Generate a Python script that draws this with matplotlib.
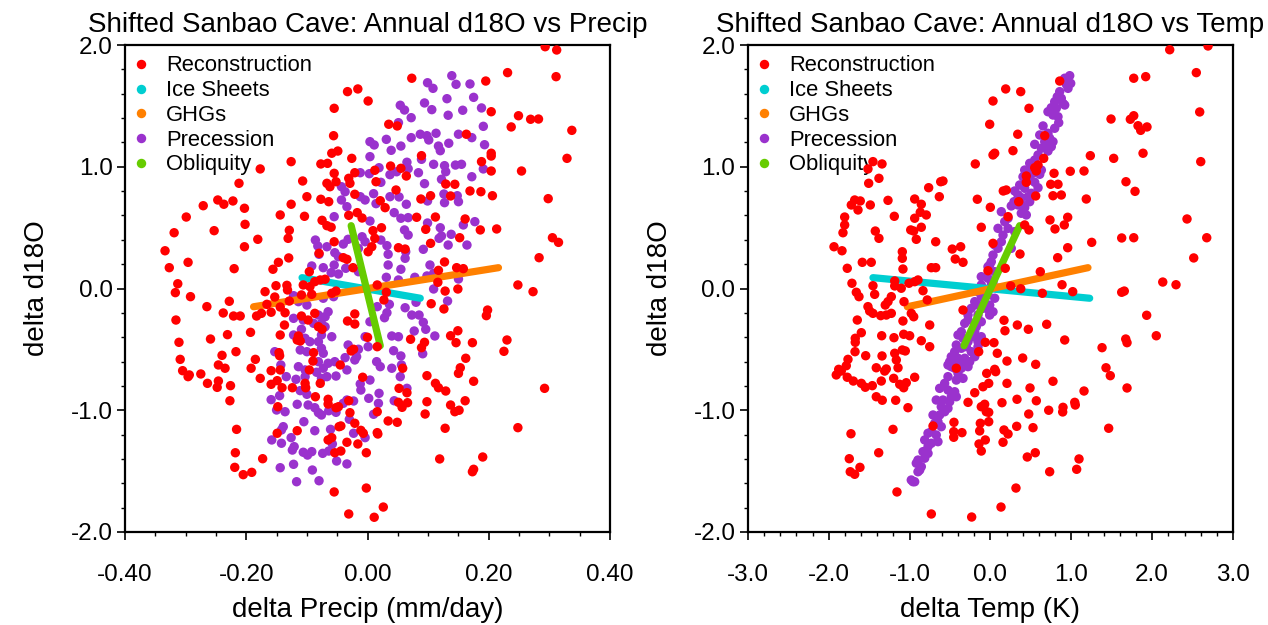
import matplotlib
matplotlib.use('Agg')
import matplotlib.pyplot as plt
from matplotlib.ticker import MultipleLocator, FormatStrFormatter
from matplotlib.lines import Line2D

plt.rcParams['font.family'] = ['Liberation Sans', 'DejaVu Sans']

# ---------------- data: left panel (precip) ----------------
recon_L = [
(-0.033,1.617),(-0.016,1.639),(0.001,1.540),(-0.055,1.480),(-0.056,1.255),(-0.059,1.111),(-0.049,1.129),(-0.026,1.069),
(-0.126,1.042),(-0.077,1.023),(-0.066,1.028),(-0.177,0.982),(-0.055,0.946),(-0.021,0.951),(-0.212,0.864),(-0.107,0.883),
(-0.067,0.864),(-0.062,0.836),(-0.052,0.877),(-0.031,0.905),(-0.029,0.864),(-0.021,0.774),(-0.100,0.754),(-0.077,0.733),
(-0.064,0.713),(-0.126,0.692),(-0.271,0.680),(-0.247,0.727),(-0.237,0.692),(-0.222,0.719),(-0.203,0.659),
(0.293,1.986),(0.312,1.959),(0.311,1.740),(0.231,1.773),(0.073,1.727),(0.195,1.704),(0.204,1.452),(0.249,1.419),
(0.269,1.390),(0.282,1.392),(0.237,1.327),(0.337,1.299),(0.035,1.349),(0.049,1.335),(0.163,1.267),(0.089,1.091),
(0.204,1.111),(0.204,1.088),(0.188,1.042),(0.329,1.069),(0.038,1.006),(0.055,0.987),(0.012,0.971),(0.204,0.965),
(0.254,0.965),(0.064,0.924),(0.014,0.877),(0.129,0.858),(0.144,0.856),(0.047,0.809),(0.169,0.801),(0.187,0.795),
(0.088,0.735),(0.104,0.762),(0.137,0.760),(0.206,0.762),(0.298,0.738),(0.021,0.721),(0.029,0.664),
(-0.299,0.587),(-0.144,0.604),(-0.104,0.593),(-0.075,0.560),(-0.067,0.516),(-0.060,0.503),(-0.031,0.601),(-0.017,0.623),
(-0.009,0.579),(-0.202,0.527),(-0.253,0.475),(-0.319,0.458),(-0.129,0.478),(-0.131,0.412),(-0.181,0.404),(-0.055,0.384),
(-0.203,0.343),(-0.334,0.310),(-0.080,0.289),(-0.040,0.253),(-0.034,0.240),(-0.130,0.251),(-0.147,0.215),(-0.296,0.215),
(-0.327,0.171),(-0.220,0.163),(-0.156,0.158),(-0.024,0.171),(-0.096,0.138),(0.001,0.302),(-0.087,0.056),(-0.078,0.070),
(-0.070,0.076),(-0.095,0.015),(-0.106,0.029),(-0.313,0.039),(-0.151,0.023),(-0.133,0.026),(-0.132,-0.012),(-0.317,-0.034),
(-0.292,-0.067),(-0.169,-0.026),(-0.109,-0.053),(-0.092,-0.048),(-0.059,-0.039),(-0.052,-0.021),(-0.153,-0.070),(-0.228,-0.105),
(-0.265,-0.149),(-0.166,-0.130),(-0.144,-0.152),(-0.129,-0.103),(-0.238,-0.201),(-0.221,-0.226),(-0.210,-0.226),(-0.183,-0.226),
(-0.175,-0.204),(-0.159,-0.195),(-0.136,-0.199),(-0.316,-0.259),(-0.087,-0.204),(-0.109,-0.226),(-0.098,-0.259),(-0.021,-0.209),
(-0.033,-0.267),(-0.021,-0.292),(-0.137,-0.300),(-0.081,-0.314),(-0.075,-0.335),(-0.193,-0.360),(-0.231,-0.379),(-0.144,-0.382),
(-0.114,-0.390),(-0.111,-0.431),(-0.116,-0.423),(-0.259,-0.415),(0.000,-0.401),(-0.311,-0.442),(-0.217,-0.519),(-0.146,-0.527),
(-0.145,-0.552),(-0.089,-0.527),(-0.023,-0.499),(-0.027,-0.513),(-0.240,-0.549),(-0.309,-0.582),(-0.185,-0.582),(-0.090,-0.596),
(-0.045,-0.628),(-0.305,-0.675),(-0.246,-0.628),(-0.235,-0.655),(-0.192,-0.655),(-0.159,-0.675),(-0.144,-0.669),(-0.096,-0.669),
(0.081,0.585),(0.112,0.587),(0.161,0.571),(0.009,0.475),(0.023,0.499),(0.096,0.486),(0.186,0.481),(0.213,0.489),
(0.305,0.417),(0.315,0.379),(0.012,0.412),(0.007,0.343),(0.051,0.335),(0.062,0.324),(0.104,0.371),(0.152,0.417),
(0.283,0.253),(0.127,0.218),(0.147,0.171),(0.158,0.163),(0.117,0.149),(0.016,0.029),(0.116,0.051),(0.031,-0.031),
(0.027,-0.094),(0.128,-0.021),(0.149,-0.004),(0.248,0.029),(0.273,-0.026),(0.105,-0.125),(0.126,-0.168),(0.198,-0.177),
(0.196,-0.223),(0.149,-0.347),(0.137,-0.388),(0.146,-0.445),(0.071,-0.417),(0.094,-0.442),(0.089,-0.486),(0.173,-0.445),
(0.230,-0.423),(0.225,-0.516),(0.162,-0.573),(0.153,-0.651),(0.058,-0.655),(0.016,-0.478),
(-0.296,-0.724),(-0.294,-0.710),(-0.275,-0.702),(-0.264,-0.779),(-0.246,-0.760),(-0.248,-0.812),(-0.226,-0.798),(-0.227,-0.922),
(-0.177,-0.738),(-0.159,-0.787),(-0.149,-0.757),(-0.141,-0.815),(-0.124,-0.815),(-0.103,-0.779),(-0.102,-0.815),(-0.078,-0.779),
(-0.086,-0.889),(-0.065,-0.910),(-0.065,-0.949),(-0.052,-0.979),(-0.048,-0.971),(-0.031,-0.922),(-0.008,-0.729),(-0.029,-1.020),
(-0.148,-0.971),(-0.216,-1.157),(-0.116,-1.168),(-0.149,-1.189),(-0.047,-1.135),(-0.044,-1.129),(-0.021,-1.107),(-0.011,-1.165),
(-0.007,-1.189),(-0.065,-1.244),(-0.059,-1.225),(-0.034,-1.263),(-0.016,-1.277),(-0.054,-1.349),(-0.044,-1.335),(-0.002,-1.349),
(-0.218,-1.349),(-0.173,-1.398),(-0.219,-1.469),(-0.205,-1.529),(-0.191,-1.510),(-0.055,-1.671),(-0.002,-1.639),(-0.031,-1.852),
(0.098,-0.716),(0.150,-0.697),(0.175,-0.762),(0.112,-0.779),(0.117,-0.815),(0.129,-0.842),(0.052,-0.820),(0.065,-0.856),
(0.051,-0.935),(0.057,-0.976),(0.066,-0.938),(0.098,-0.930),(0.137,-0.957),(0.161,-0.922),(0.144,-1.012),(0.151,-1.000),
(0.095,-1.031),(0.016,-1.012),(0.034,-1.088),(0.049,-1.099),(0.128,-1.148),(0.292,-0.820),(0.248,-1.143),(0.016,-1.184),
(0.017,-1.195),(0.119,-1.400),(0.190,-1.384),(0.175,-1.485),(0.173,-1.505),(0.026,-1.795),(0.011,-1.879),
]
recon_precip = [p[0] for p in recon_L]
recon_d18o_L = [p[1] for p in recon_L]

prec_L = [
(-0.012,0.951),(0.004,1.206),(0.004,1.083),(-0.043,0.836),(-0.037,0.795),(-0.043,0.727),(-0.034,0.672),(-0.012,0.754),(-0.004,0.727),
(0.139,1.748),(0.099,1.690),(0.108,1.644),(0.146,1.677),(0.169,1.680),(0.131,1.559),(0.175,1.570),(0.054,1.505),(0.061,1.466),
(0.094,1.524),(0.106,1.469),(0.157,1.464),(0.188,1.483),(0.133,1.423),(0.072,1.403),(0.051,1.362),(0.191,1.332),(0.087,1.267),
(0.098,1.255),(0.101,1.220),(0.113,1.275),(0.150,1.267),(0.172,1.239),(0.072,1.239),(0.031,1.225),(0.011,1.179),(0.055,1.170),
(0.039,1.135),(0.117,1.170),(0.120,1.132),(0.134,1.193),(0.193,1.181),(0.089,1.061),(0.065,1.037),(0.067,0.984),(0.109,1.020),
(0.127,1.009),(0.129,0.959),(0.145,1.014),(0.155,1.020),(0.191,0.982),(0.019,0.992),(0.003,0.943),(0.037,0.935),(0.048,0.959),
(0.084,0.951),(0.122,0.897),(0.094,0.861),(0.172,0.918),(0.022,0.872),(0.010,0.779),(0.037,0.754),(0.052,0.752),(0.126,0.776),
(0.148,0.762),(0.150,0.713),(0.127,0.705),(0.099,0.719),(0.064,0.692),(0.014,0.697),
(-0.055,0.590),(-0.086,0.398),(-0.082,0.349),(-0.067,0.343),(-0.054,0.294),(-0.048,0.261),(-0.040,0.365),(-0.032,0.404),
(-0.009,0.425),(-0.004,0.384),(-0.015,0.330),(-0.080,0.281),(-0.092,0.185),(-0.073,0.171),(-0.055,0.193),(-0.060,0.130),
(-0.048,0.119),(-0.036,0.166),(-0.015,0.138),(-0.122,-0.059),(-0.114,-0.108),(-0.100,-0.136),(-0.073,-0.080),(-0.056,-0.067),
(-0.081,-0.218),(-0.070,-0.232),(-0.065,-0.191),(-0.122,-0.245),(-0.106,-0.259),(-0.089,-0.286),(-0.076,-0.286),(-0.070,-0.314),
(-0.109,-0.335),(-0.122,-0.382),(-0.103,-0.409),(-0.095,-0.437),(-0.081,-0.437),(-0.076,-0.382),(-0.059,-0.396),(-0.111,-0.505),
(-0.100,-0.519),(-0.076,-0.491),(-0.073,-0.532),(-0.032,-0.464),(-0.015,-0.499),(-0.018,-0.560),(-0.004,-0.396),(0.001,-0.478),
(-0.153,-0.519),(-0.143,-0.628),(-0.114,-0.642),(-0.081,-0.601),(-0.065,-0.614),(-0.054,-0.601),(-0.037,-0.568),(-0.021,-0.587),
(-0.073,-0.655),(0.004,-0.273),(0.004,0.554),
(0.044,0.623),(0.055,0.577),(0.067,0.582),(0.099,0.538),(0.120,0.499),(0.158,0.522),(0.177,0.549),(0.061,0.481),(0.067,0.439),
(0.118,0.412),(0.122,0.431),(0.138,0.445),(0.133,0.357),(0.164,0.357),(0.022,0.398),(0.032,0.352),(0.034,0.281),(0.063,0.302),
(0.062,0.248),(0.092,0.322),(0.034,0.193),(0.055,0.158),(0.103,0.193),(0.031,0.092),(0.051,0.070),(0.078,0.092),(0.098,0.103),
(0.109,0.125),(0.150,0.078),(0.109,-0.004),(0.132,-0.103),(0.080,-0.113),(0.036,-0.130),(0.016,-0.149),(0.062,-0.158),(0.032,-0.199),
(0.028,-0.240),(0.073,-0.218),(0.085,-0.218),(0.092,-0.278),(0.096,-0.335),(0.077,-0.349),(0.040,-0.390),(0.051,-0.396),(0.111,-0.390),
(0.043,-0.511),(0.055,-0.554),(0.091,-0.536),(0.015,-0.601),(0.021,-0.642),(0.040,-0.655),(0.056,-0.628),
(-0.134,-0.724),(-0.118,-0.746),(-0.103,-0.669),(-0.084,-0.688),(-0.076,-0.738),(-0.067,-0.724),(-0.052,-0.719),(-0.034,-0.669),
(-0.103,-0.724),(-0.111,-0.839),(-0.100,-0.869),(-0.098,-0.957),(-0.087,-0.979),(-0.081,-1.020),(-0.076,-1.039),(-0.064,-1.004),
(-0.052,-1.017),(-0.040,-0.943),(-0.034,-0.916),(-0.023,-0.924),(-0.012,-0.784),(-0.011,-0.834),(0.002,-0.902),(-0.159,-0.913),
(-0.145,-0.880),(-0.116,-0.951),(-0.136,-1.012),(-0.150,-0.998),(-0.105,-1.094),(-0.139,-1.135),(-0.142,-1.162),(-0.087,-1.168),
(-0.061,-1.157),(-0.030,-1.074),(-0.023,-1.189),(-0.004,-1.225),(-0.158,-1.244),(-0.126,-1.225),(-0.142,-1.271),(-0.121,-1.299),
(-0.124,-1.327),(-0.106,-1.345),(-0.099,-1.368),(-0.092,-1.340),(-0.074,-1.354),(-0.064,-1.335),(-0.058,-1.277),(-0.051,-1.417),
(-0.034,-1.441),(-0.122,-1.444),(-0.144,-1.472),(-0.091,-1.491),(-0.117,-1.587),(-0.080,-1.579),(0.004,-0.752),
(0.054,-0.724),(0.065,-0.820),(0.019,-0.861),(0.044,-0.922),(0.018,-0.943),(0.010,-1.033),
]
prec_precip = [p[0] for p in prec_L]
prec_d18o_L = [p[1] for p in prec_L]

# single-forcing series (end points of their straight runs)
ice_precip = [-0.108, 0.087]
ice_d18o = [0.089, -0.080]
ghg_precip = [-0.188, 0.216]
ghg_d18o = [-0.150, 0.171]
obl_precip = [-0.027, 0.021]
obl_d18o = [0.516, -0.470]

# ---------------- data: right panel (temp) ----------------
recon_R = [
(-0.010,1.349),(0.031,1.540),(0.031,1.097),(-0.188,1.023),(-1.454,1.042),(-1.342,1.023),(-1.507,0.864),(-1.380,0.905),
(-1.516,0.982),(-0.616,0.877),(-0.588,0.883),(-0.765,0.828),(-0.633,0.754),(-0.163,0.733),(-1.268,0.724),(-0.938,0.735),
(-0.856,0.692),(-1.680,0.727),(-1.611,0.719),(-1.722,0.686),(-1.487,0.686),(-0.002,0.667),
(2.217,1.961),(2.691,1.992),(2.546,1.773),(1.772,1.727),(1.920,1.740),(0.856,1.704),(0.188,1.639),(0.374,1.617),
(0.476,1.480),(2.588,1.450),(1.491,1.392),(1.730,1.390),(1.772,1.419),(1.825,1.337),(1.858,1.299),(1.936,1.327),
(0.337,1.267),(0.671,1.255),(0.278,1.132),(0.052,1.111),(1.235,1.091),(1.524,1.069),(1.887,1.111),(2.601,1.042),
(0.658,1.069),(0.547,0.992),(0.588,1.014),(0.567,0.965),(0.443,0.924),(0.786,0.946),(0.987,0.963),(1.157,0.965),
(0.443,0.872),(0.745,0.856),(0.835,0.856),(1.676,0.877),(1.788,0.798),(0.158,0.801),(0.195,0.809),(0.559,0.760),
(0.773,0.762),(0.876,0.768),(0.349,0.713),(1.185,0.735),
(-1.639,0.645),(-1.804,0.587),(-1.804,0.522),(-1.825,0.458),(-1.190,0.593),(-0.938,0.577),(-0.869,0.626),(-0.794,0.604),
(-0.856,0.503),(-0.987,0.481),(-0.950,0.472),(-1.425,0.472),(-1.380,0.412),(-0.918,0.404),(-0.678,0.384),(-0.114,0.503),
(-1.936,0.343),(-1.837,0.310),(-1.091,0.302),(-1.091,0.248),(-0.473,0.324),(-0.369,0.343),(-0.436,0.242),(-0.340,0.215),
(-1.586,0.215),(-1.475,0.215),(-1.772,0.166),(-1.083,0.160),(-0.732,0.171),(-0.678,0.171),(-0.031,0.146),(-1.714,0.043),
(-1.454,0.023),(-1.185,0.062),(-1.185,0.021),(-1.104,0.002),(-1.008,0.043),(-0.938,0.056),(-0.897,0.070),(-0.835,-0.018),
(-1.660,-0.031),(-1.627,-0.067),(-1.433,-0.048),(-1.227,-0.067),(-1.268,-0.108),(-1.302,-0.136),(-1.070,-0.108),(-0.782,-0.094),
(-1.516,-0.149),(-1.495,-0.185),(-1.454,-0.204),(-1.358,-0.223),(-1.289,-0.218),(-1.227,-0.204),(-0.980,-0.204),(-0.950,-0.232),
(-0.340,-0.177),(-1.648,-0.259),(-1.083,-0.267),(-0.752,-0.300),(-1.598,-0.363),(-1.346,-0.388),(-1.194,-0.404),(-1.074,-0.376),
(-1.000,-0.388),(-1.673,-0.409),(-1.673,-0.442),(-0.856,-0.429),(-0.752,-0.478),(-0.064,-0.442),(-0.146,-0.519),(-1.676,-0.519),
(-1.544,-0.552),(-1.342,-0.554),(-1.185,-0.532),(-1.165,-0.587),(-1.091,-0.505),(-1.054,-0.513),(-1.763,-0.582),(-1.784,-0.634),
(-1.413,-0.651),(-1.289,-0.661),(-1.144,-0.651),(-0.423,-0.655),(-1.878,-0.664),
(0.217,0.590),(0.423,0.522),(0.476,0.481),(0.736,0.563),(0.798,0.489),(0.913,0.522),(0.955,0.585),(1.252,0.379),
(1.623,0.415),(1.772,0.417),(2.431,0.571),(2.675,0.417),(0.955,0.335),(0.031,0.371),(0.365,0.283),(0.831,0.253),
(2.514,0.251),(0.183,0.166),(0.616,0.138),(0.885,0.031),(0.250,0.021),(0.374,-0.002),(0.641,-0.039),(1.017,-0.026),
(2.131,0.053),(2.295,0.031),(1.623,-0.031),(1.655,-0.021),(1.932,-0.220),(0.167,-0.261),(0.179,-0.347),(0.332,-0.300),
(0.468,-0.335),(0.695,-0.294),(2.051,-0.388),(1.673,-0.415),(1.689,-0.445),(0.918,-0.423),(1.380,-0.486),(0.043,-0.445),
(0.084,-0.532),(0.204,-0.596),(0.398,-0.571),(0.559,-0.623),(1.429,-0.651),(0.052,-0.664),
(-1.908,-0.710),(-1.846,-0.678),(-1.772,-0.729),(-1.697,-0.760),(-1.598,-0.779),(-1.549,-0.811),(-1.462,-0.798),(-1.309,-0.678),
(-1.351,-0.760),(-1.198,-0.738),(-1.123,-0.787),(-1.074,-0.815),(-1.042,-0.774),(-0.938,-0.729),(-1.413,-0.889),(-1.339,-0.918),
(-1.173,-0.918),(-1.021,-0.979),(-0.047,-0.697),(-0.022,-0.779),(-0.093,-0.807),(-0.195,-0.856),(-0.278,-0.935),(-0.114,-0.971),
(-0.072,-0.951),(-0.052,-1.012),(-0.022,-1.017),(-0.022,-1.094),(-0.126,-1.107),(-0.134,-1.170),(-0.064,-1.244),(-0.142,-1.277),
(-0.114,-1.335),(-0.452,-1.099),(-0.455,-1.176),(-0.455,-1.222),(-0.353,-1.184),(-0.711,-1.129),(-1.206,-1.157),(-1.726,-1.193),
(-1.383,-1.349),(-1.747,-1.398),(-1.735,-1.505),(-1.680,-1.526),(-1.615,-1.469),(-1.157,-1.671),(-0.732,-1.852),(-0.233,-1.877),
(0.064,-0.683),(0.204,-0.779),(0.489,-0.817),(0.773,-0.762),(1.157,-0.842),(1.482,-0.716),(1.689,-0.817),(0.142,-0.938),
(0.328,-0.910),(0.567,-0.922),(0.473,-1.031),(0.720,-1.000),(0.897,-0.976),(0.893,-1.014),(1.042,-0.935),(1.049,-0.957),
(0.167,-1.162),(0.217,-1.195),(0.324,-1.132),(0.526,-1.143),(1.462,-1.148),(0.155,-1.263),(0.455,-1.384),(0.554,-1.349),
(0.732,-1.505),(1.095,-1.400),(1.066,-1.485),(0.315,-1.639),(0.130,-1.795),
]
recon_temp = [p[0] for p in recon_R]
recon_d18o_R = [p[1] for p in recon_R]

prec_R = [
(0.980,1.748),(0.992,1.685),(0.938,1.677),(0.959,1.644),(0.826,1.575),(0.876,1.562),(0.897,1.521),(0.918,1.507),
(0.752,1.485),(0.814,1.480),(0.773,1.425),(0.835,1.411),(0.844,1.362),(0.650,1.335),(0.609,1.261),(0.711,1.275),
(0.732,1.234),(0.773,1.206),(0.690,1.179),(0.752,1.165),(0.629,1.152),(0.547,1.184),(0.711,1.129),(0.485,1.028),
(0.423,0.973),(0.505,0.982),(0.629,0.973),(0.609,0.938),(0.526,0.946),(0.402,0.918),(0.485,0.891),(0.547,0.872),
(0.588,0.828),(0.299,0.801),(0.340,0.768),(0.381,0.746),(0.464,0.754),(0.505,0.782),(0.291,0.713),(0.381,0.692),
(0.485,0.713),(0.423,0.664),
(0.918,1.727),(0.856,1.617),(0.794,1.534),(0.711,1.452),(0.794,1.316),(0.671,1.206),(0.588,1.097),(0.547,1.055),
(0.464,0.959),(0.361,0.850),(0.423,0.823),(0.340,0.686),
(0.257,0.678),(0.381,0.618),(0.443,0.604),(0.176,0.549),(0.217,0.494),(0.155,0.439),(0.299,0.467),(0.052,0.357),
(0.093,0.330),(0.257,0.330),(0.031,0.275),(-0.031,0.179),(0.052,0.138),(0.031,0.056),(0.093,0.002),(0.052,-0.080),
(-0.010,-0.136),(-0.010,-0.218),
(0.134,0.631),(0.217,0.577),(0.093,0.494),(0.134,0.384),(0.010,0.220),(-0.031,-0.053),(0.031,-0.191),
(-0.031,0.084),(-0.114,0.029),(-0.155,-0.026),(-0.195,-0.108),(-0.238,-0.163),(-0.155,-0.218),(-0.278,-0.218),(-0.319,-0.286),
(-0.114,-0.273),(-0.361,-0.355),(-0.195,-0.355),(-0.114,-0.396),(-0.402,-0.382),(-0.278,-0.437),(-0.155,-0.437),(-0.443,-0.519),
(-0.361,-0.491),(-0.238,-0.519),(-0.485,-0.560),(-0.319,-0.573),(-0.195,-0.560),(-0.526,-0.628),(-0.361,-0.614),(-0.443,-0.655),
(-0.010,0.193),(-0.052,-0.136),(-0.010,-0.191),
(-0.114,0.097),(0.010,0.029),(-0.052,-0.026),(-0.114,-0.067),(-0.155,-0.136),(-0.093,-0.163),(-0.278,-0.259),(-0.176,-0.314),
(-0.340,-0.409),(-0.216,-0.396),(-0.423,-0.464),(-0.299,-0.478),(-0.155,-0.478),(-0.505,-0.601),(-0.402,-0.573),(-0.257,-0.601),
(-0.464,-0.628),
(-0.485,-0.642),(-0.361,-0.655),(-0.278,-0.642),(-0.526,-0.724),(-0.423,-0.752),(-0.340,-0.738),(-0.629,-0.820),(-0.526,-0.834),
(-0.443,-0.848),(-0.423,-0.889),(-0.671,-0.916),(-0.588,-0.916),(-0.505,-0.930),(-0.609,-0.971),(-0.526,-0.984),(-0.711,-1.039),
(-0.629,-1.039),(-0.650,-1.094),(-0.609,-1.135),(-0.773,-1.189),(-0.671,-1.203),(-0.814,-1.244),(-0.732,-1.271),(-0.650,-1.258),
(-0.835,-1.340),(-0.773,-1.354),(-0.814,-1.394),(-0.918,-1.435),(-0.856,-1.463),(-0.876,-1.491),(-0.980,-1.573),(-0.938,-1.587),
(-0.402,-0.697),(-0.567,-0.779),(-0.485,-0.889),(-0.567,-1.012),(-0.690,-1.107),(-0.732,-1.176),(-0.773,-1.299),(-0.897,-1.409),
(-0.897,-1.505),(-0.959,-1.587),
]
prec_temp = [p[0] for p in prec_R]
prec_d18o_R = [p[1] for p in prec_R]

ice_temp = [-1.454, 1.227]
ghg_temp = [-1.029, 1.206]
obl_temp = [0.361, -0.328]

labels = ["Reconstruction", "Ice Sheets", "GHGs", "Precession", "Obliquity"]
RED, CYAN, ORANGE, PURPLE, GREEN = '#FF0000', '#00CED1', '#FF8000', '#9A32CD', '#66CC00'
colors = [RED, CYAN, ORANGE, PURPLE, GREEN]

fig = plt.figure(figsize=(12.68, 6.25), dpi=100)
axL = fig.add_axes([0.0986, 0.1488, 0.3825, 0.7792])
axR = fig.add_axes([0.5899, 0.1488, 0.3825, 0.7792])

S = 46
LW = 5.2

def draw(ax, rx, ry, px, py, ix, iy, gx, gy, ox, oy):
    ax.scatter(px, py, s=S, color=PURPLE, edgecolors='none', zorder=2)
    ax.plot(ix, iy, color=CYAN, lw=LW, solid_capstyle='round', zorder=3)
    ax.plot(gx, gy, color=ORANGE, lw=LW, solid_capstyle='round', zorder=4)
    ax.plot(ox, oy, color=GREEN, lw=LW, solid_capstyle='round', zorder=5)
    ax.scatter(rx, ry, s=S, color=RED, edgecolors='none', zorder=6)
    ax.set_ylim(-2.0, 2.0)
    ax.yaxis.set_major_locator(MultipleLocator(1.0))
    ax.yaxis.set_minor_locator(MultipleLocator(0.2))
    ax.yaxis.set_major_formatter(FormatStrFormatter('%.1f'))
    ax.tick_params(axis='both', which='major', direction='out', length=6, width=1.2,
                   labelsize=17.5, top=False, right=False)
    ax.tick_params(axis='x', which='major', pad=17)
    ax.tick_params(axis='y', which='major', pad=3)
    ax.tick_params(axis='both', which='minor', direction='out', length=3, width=1.0,
                   top=False, right=False)
    for sp in ax.spines.values():
        sp.set_linewidth(1.6)
    handles = [Line2D([], [], ls='none', marker='o', ms=6.8, color=c, mec='none') for c in colors]
    ax.legend(handles, labels, loc='upper left', bbox_to_anchor=(0.0, 0.992),
              frameon=False, fontsize=15.8,
              borderaxespad=0.2, borderpad=0.1, handlelength=0.85, handletextpad=0.72,
              labelspacing=0.17)
    ax.set_ylabel('delta d18O', fontsize=20, labelpad=15)

draw(axL, recon_precip, recon_d18o_L, prec_precip, prec_d18o_L,
     ice_precip, ice_d18o, ghg_precip, ghg_d18o, obl_precip, obl_d18o)
axL.set_xlim(-0.4, 0.4)
axL.xaxis.set_major_locator(MultipleLocator(0.2))
axL.xaxis.set_minor_locator(MultipleLocator(0.05))
axL.xaxis.set_major_formatter(FormatStrFormatter('%.2f'))
axL.set_xlabel('delta Precip (mm/day)', fontsize=20, labelpad=8)
axL.set_title('Shifted Sanbao Cave: Annual d18O vs Precip', fontsize=20, pad=9)

draw(axR, recon_temp, recon_d18o_R, prec_temp, prec_d18o_R,
     ice_temp, ice_d18o, ghg_temp, ghg_d18o, obl_temp, obl_d18o)
axR.set_xlim(-3.0, 3.0)
axR.xaxis.set_major_locator(MultipleLocator(1.0))
axR.xaxis.set_minor_locator(MultipleLocator(0.2))
axR.xaxis.set_major_formatter(FormatStrFormatter('%.1f'))
axR.set_xlabel('delta Temp (K)', fontsize=20, labelpad=8)
axR.set_title('Shifted Sanbao Cave: Annual d18O vs Temp', fontsize=20, pad=9)

fig.savefig('out.png', dpi=100)
